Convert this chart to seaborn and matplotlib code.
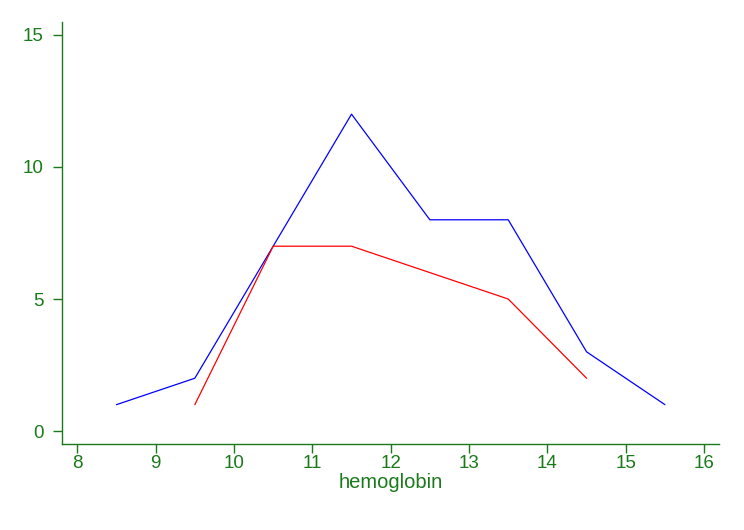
import pandas as pd
import numpy as np
import matplotlib.pyplot as plt
import seaborn as sns

# hemoglobin bin midpoints and counts for the two groups
blue_x = [8.5, 9.5, 10.5, 11.5, 12.5, 13.5, 14.5, 15.5]
blue_y = [1, 2, 7, 12, 8, 8, 3, 1]
red_x = [9.5, 10.5, 11.5, 12.5, 13.5, 14.5]
red_y = [1, 7, 7, 6, 5, 2]
x_ticks = [8, 9, 10, 11, 12, 13, 14, 15, 16]
y_ticks = [0, 5, 10, 15]

GREEN = '#1a7a1a'

sns.set_style('white')
plt.rcParams['font.family'] = ['Liberation Sans', 'DejaVu Sans']

fig = plt.figure(figsize=(7.44, 5.30), dpi=100)
ax = fig.add_axes([62 / 744, 86 / 530, (719 - 62) / 744, (444 - 22) / 530])

sns.lineplot(x=blue_x, y=blue_y, color='#0000ff', linewidth=0.9, ax=ax)
sns.lineplot(x=red_x, y=red_y, color='#ff0000', linewidth=0.9, ax=ax)

ax.set_xlim(7.805, 16.19)
ax.set_ylim(-0.49, 15.49)
ax.set_xticks(x_ticks)
ax.set_yticks(y_ticks)

for side in ['top', 'right']:
    ax.spines[side].set_visible(False)
for side in ['left', 'bottom']:
    ax.spines[side].set_color(GREEN)
    ax.spines[side].set_linewidth(1.0)

ax.tick_params(axis='both', colors=GREEN, labelcolor=GREEN, labelsize=13.5,
               direction='out', length=6.5, width=1.0, left=True, bottom=True)
ax.tick_params(axis='x', pad=1.5)
ax.tick_params(axis='y', pad=7)

ax.set_xlabel('hemoglobin', color=GREEN, fontsize=14.5, labelpad=1)
ax.set_ylabel('')

fig.savefig('out.png', dpi=100)
